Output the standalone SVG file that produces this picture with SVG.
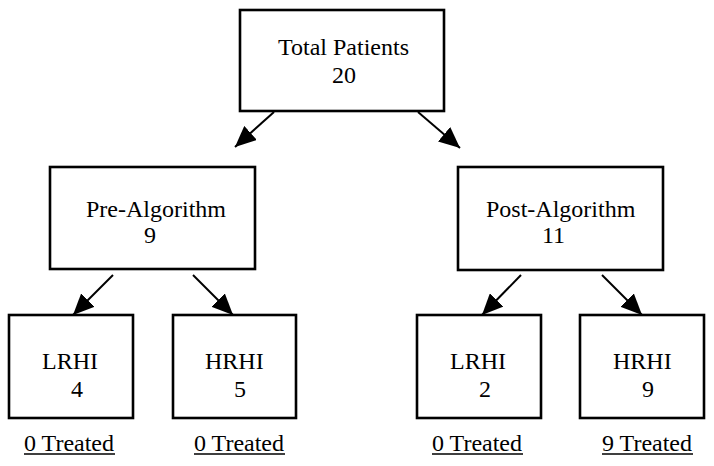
<svg xmlns="http://www.w3.org/2000/svg" width="714" height="466" viewBox="0 0 714 466">
<style>
.box{fill:#fff;stroke:#000;stroke-width:2.6}
.t{font-family:"Liberation Serif","Times New Roman",serif;font-size:24px;fill:#000}
.c{stroke:#000;stroke-width:2;fill:none}
.u{stroke:#000;stroke-width:1.3}
</style>
<defs>
<marker id="ah" markerUnits="userSpaceOnUse" markerWidth="22" markerHeight="19" refX="21" refY="9.5" orient="auto" viewBox="0 0 22 19">
<path d="M0,0 L21,9.5 L0,19 Z" fill="#000"/>
</marker>
</defs>
<rect width="714" height="466" fill="#fff"/>
<g id="connectors">
<line class="c" x1="274" y1="112" x2="235" y2="147" marker-end="url(#ah)"/>
<line class="c" x1="418" y1="112" x2="460" y2="148" marker-end="url(#ah)"/>
<line class="c" x1="113" y1="275" x2="73" y2="315" marker-end="url(#ah)"/>
<line class="c" x1="193" y1="275" x2="233" y2="315" marker-end="url(#ah)"/>
<line class="c" x1="521" y1="275" x2="482" y2="315" marker-end="url(#ah)"/>
<line class="c" x1="602" y1="275" x2="642" y2="315" marker-end="url(#ah)"/>
</g>
<g id="total">
<rect class="box" x="240" y="10" width="204" height="101"/>
<text class="t" x="278" y="55">Total Patients</text>
<text class="t" x="332" y="83">20</text>
</g>
<g id="pre">
<rect class="box" x="50" y="167" width="205" height="102"/>
<text class="t" x="86" y="217">Pre-Algorithm</text>
<text class="t" x="144" y="243">9</text>
</g>
<g id="post">
<rect class="box" x="458" y="167" width="205" height="103"/>
<text class="t" x="486" y="217">Post-Algorithm</text>
<text class="t" x="542" y="243">11</text>
</g>
<g id="pre-lrhi">
<rect class="box" x="9" y="315" width="124" height="103"/>
<text class="t" x="42" y="369">LRHI</text>
<text class="t" x="71" y="397">4</text>
<text class="t" x="24" y="451">0 Treated</text>
<line class="u" x1="24" y1="454" x2="115" y2="454"/>
</g>
<g id="pre-hrhi">
<rect class="box" x="173" y="315" width="123" height="103"/>
<text class="t" x="205" y="369">HRHI</text>
<text class="t" x="234" y="397">5</text>
<text class="t" x="194" y="451">0 Treated</text>
<line class="u" x1="194" y1="454" x2="285" y2="454"/>
</g>
<g id="post-lrhi">
<rect class="box" x="417" y="315" width="124" height="103"/>
<text class="t" x="450" y="369">LRHI</text>
<text class="t" x="479" y="397">2</text>
<text class="t" x="432" y="451">0 Treated</text>
<line class="u" x1="432" y1="454" x2="523" y2="454"/>
</g>
<g id="post-hrhi">
<rect class="box" x="580" y="315" width="124" height="103"/>
<text class="t" x="613" y="369">HRHI</text>
<text class="t" x="642" y="397">9</text>
<text class="t" x="602" y="451">9 Treated</text>
<line class="u" x1="602" y1="454" x2="693" y2="454"/>
</g>
</svg>
